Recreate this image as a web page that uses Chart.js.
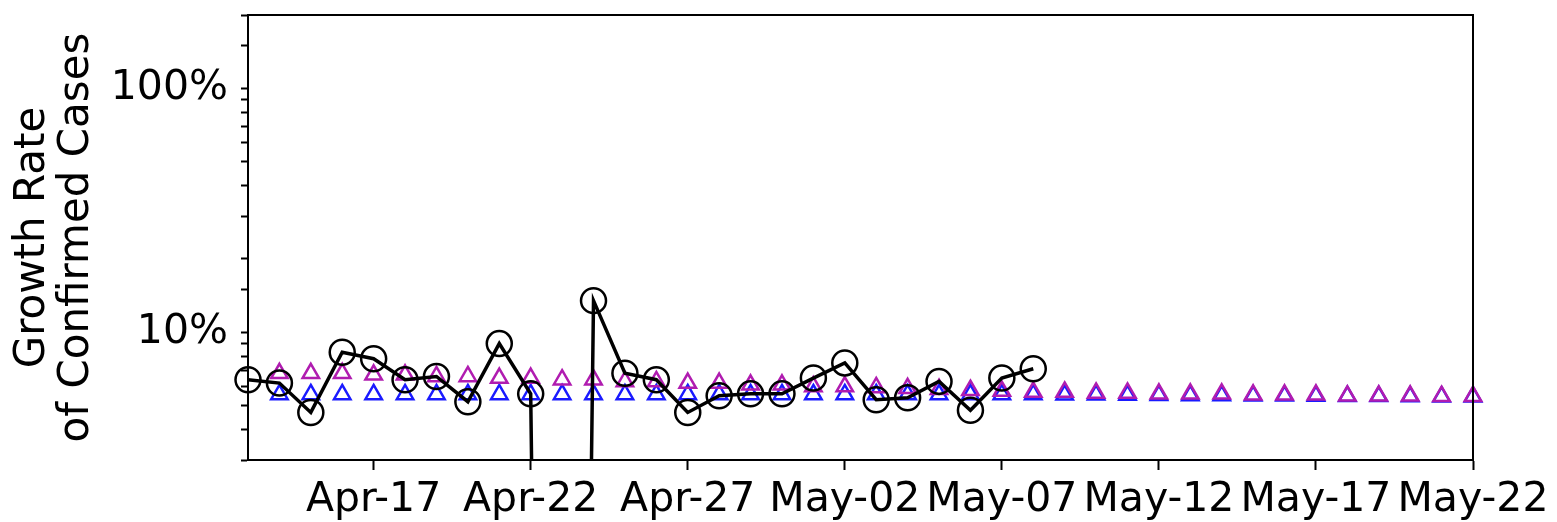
<!DOCTYPE html>
<html>
<head>
<meta charset="utf-8">
<script src="https://cdn.jsdelivr.net/npm/chart.js@4.4.0/dist/chart.umd.min.js"></script>
<style>
    html, body { margin: 0; padding: 0; background: #fff; }
    #wrap { width: 1557px; height: 522px; }
</style>
</head>
<body>
<div id="wrap"><canvas id="growthChart"></canvas></div>
<script>
// one category per day, Apr-13 .. May-22
const dates = [
    'Apr-13', 'Apr-14', 'Apr-15', 'Apr-16', 'Apr-17', 'Apr-18', 'Apr-19', 'Apr-20',
    'Apr-21', 'Apr-22', 'Apr-23', 'Apr-24', 'Apr-25', 'Apr-26', 'Apr-27', 'Apr-28',
    'Apr-29', 'Apr-30', 'May-01', 'May-02', 'May-03', 'May-04', 'May-05', 'May-06',
    'May-07', 'May-08', 'May-09', 'May-10', 'May-11', 'May-12', 'May-13', 'May-14',
    'May-15', 'May-16', 'May-17', 'May-18', 'May-19', 'May-20', 'May-21', 'May-22'
];
const xTickLabels = ['Apr-17', 'Apr-22', 'Apr-27', 'May-02', 'May-07', 'May-12', 'May-17', 'May-22'];
const yTickValues = [10, 100];
const yTickText = ['10%', '100%'];

// observed growth rate (%), Apr-13 .. May-08
// Apr-23 was not positive; a tiny value makes the log axis drop it off the bottom
const observed = [
    6.4, 6.2, 4.7, 8.3, 7.8, 6.4, 6.6, 5.2, 9.0, 5.6,
    1e-9, 13.5, 6.8, 6.4, 4.7, 5.5, 5.6, 5.6, 6.5, 7.5,
    5.3, 5.4, 6.3, 4.8, 6.5, 7.1
];
// model fits (%), Apr-14 .. May-22
const fitPurple = [
    6.8, 6.8, 6.8, 6.7, 6.7, 6.6, 6.6, 6.5, 6.5, 6.4,
    6.4, 6.3, 6.3, 6.2, 6.2, 6.1, 6.1, 6.0, 6.0, 5.95,
    5.9, 5.85, 5.8, 5.75, 5.7, 5.7, 5.65, 5.65, 5.6, 5.6,
    5.6, 5.55, 5.55, 5.55, 5.5, 5.5, 5.5, 5.48, 5.48
];
const fitBlue = [
    5.57, 5.57, 5.57, 5.57, 5.57, 5.57, 5.57, 5.57, 5.57, 5.57,
    5.57, 5.57, 5.57, 5.57, 5.57, 5.57, 5.57, 5.57, 5.57, 5.57,
    5.57, 5.57, 5.57, 5.57, 5.57, 5.55, 5.55, 5.54, 5.53, 5.52,
    5.51, 5.5, 5.5, 5.49, 5.48, 5.47, 5.46, 5.45, 5.45
];

Chart.defaults.font.family = '"DejaVu Sans", sans-serif';
Chart.defaults.color = '#000';

// y label in two centred lines, plus the top and right spines
const framePlugin = {
    id: 'frame',
    afterDraw(chart) {
        const ctx = chart.ctx;
        const area = chart.chartArea;
        ctx.save();
        ctx.strokeStyle = '#000';
        ctx.lineWidth = 2;
        ctx.beginPath();
        ctx.moveTo(area.left, area.top);
        ctx.lineTo(area.right, area.top);
        ctx.lineTo(area.right, area.bottom);
        ctx.stroke();

        const mid = (area.top + area.bottom) / 2;
        ctx.fillStyle = '#000';
        ctx.font = '42px "DejaVu Sans", sans-serif';
        ctx.textAlign = 'center';
        ctx.textBaseline = 'alphabetic';
        ctx.translate(44, mid);
        ctx.rotate(-Math.PI / 2);
        ctx.fillText('Growth Rate', 0, 0);
        ctx.fillText('of Confirmed Cases', 0, 44);
        ctx.restore();
    }
};

const ctx = document.getElementById('growthChart').getContext('2d');

const growthChart = new Chart(ctx, {
    type: 'line',
    data: {
        labels: dates,
        datasets: [{
            label: 'Observed',
            data: observed,
            borderColor: '#000',
            borderWidth: 3.5,
            pointStyle: 'circle',
            pointRadius: 12.5,
            pointBorderWidth: 2.5,
            pointBorderColor: '#000',
            pointBackgroundColor: 'rgba(0,0,0,0)',
            tension: 0
        },
        {
            label: 'Fit A',
            data: [null].concat(fitPurple),
            showLine: false,
            pointStyle: 'triangle',
            pointRadius: 9.5,
            pointBorderWidth: 2.5,
            pointBorderColor: '#b01cb0',
            pointBackgroundColor: 'rgba(0,0,0,0)'
        },
        {
            label: 'Fit B',
            data: [null].concat(fitBlue),
            showLine: false,
            pointStyle: 'triangle',
            pointRadius: 9.5,
            pointBorderWidth: 2.5,
            pointBorderColor: '#1a1aff',
            pointBackgroundColor: 'rgba(0,0,0,0)'
        }]
    },
    options: {
        responsive: true,
        maintainAspectRatio: false,
        animation: false,
        layout: {
            padding: { left: 0, right: 84, top: 12, bottom: 0 }
        },
        scales: {
            x: {
                type: 'category',
                offset: false,
                grid: {
                    drawOnChartArea: false,
                    drawTicks: true,
                    tickLength: 10,
                    tickWidth: 2,
                    tickColor: '#000'
                },
                border: { display: true, color: '#000', width: 2 },
                ticks: {
                    autoSkip: false,
                    maxRotation: 0,
                    padding: 6,
                    font: { size: 41 },
                    callback: function (value, index) {
                        const label = dates[index];
                        return xTickLabels.includes(label) ? label : null;
                    }
                },
                afterFit: function (scale) {
                    scale.height = 62;
                    scale.paddingLeft = 0;
                    scale.paddingRight = 0;
                }
            },
            y: {
                type: 'logarithmic',
                min: 3,
                max: 200,
                grid: {
                    drawOnChartArea: false,
                    drawTicks: true,
                    tickLength: 7,
                    tickWidth: 2,
                    tickColor: '#000'
                },
                border: { display: true, color: '#000', width: 2 },
                ticks: {
                    autoSkip: false,
                    padding: 13,
                    font: { size: 41 },
                    callback: function (value) {
                        const i = yTickValues.findIndex(v => Math.abs(v - value) < 1e-6);
                        return i >= 0 ? yTickText[i] : '';
                    }
                },
                afterFit: function (scale) {
                    scale.width = 248;
                    scale.paddingTop = 0;
                    scale.paddingBottom = 0;
                }
            }
        },
        plugins: {
            legend: { display: false },
            tooltip: { enabled: false }
        }
    },
    plugins: [framePlugin]
});
</script>
</body>
</html>
